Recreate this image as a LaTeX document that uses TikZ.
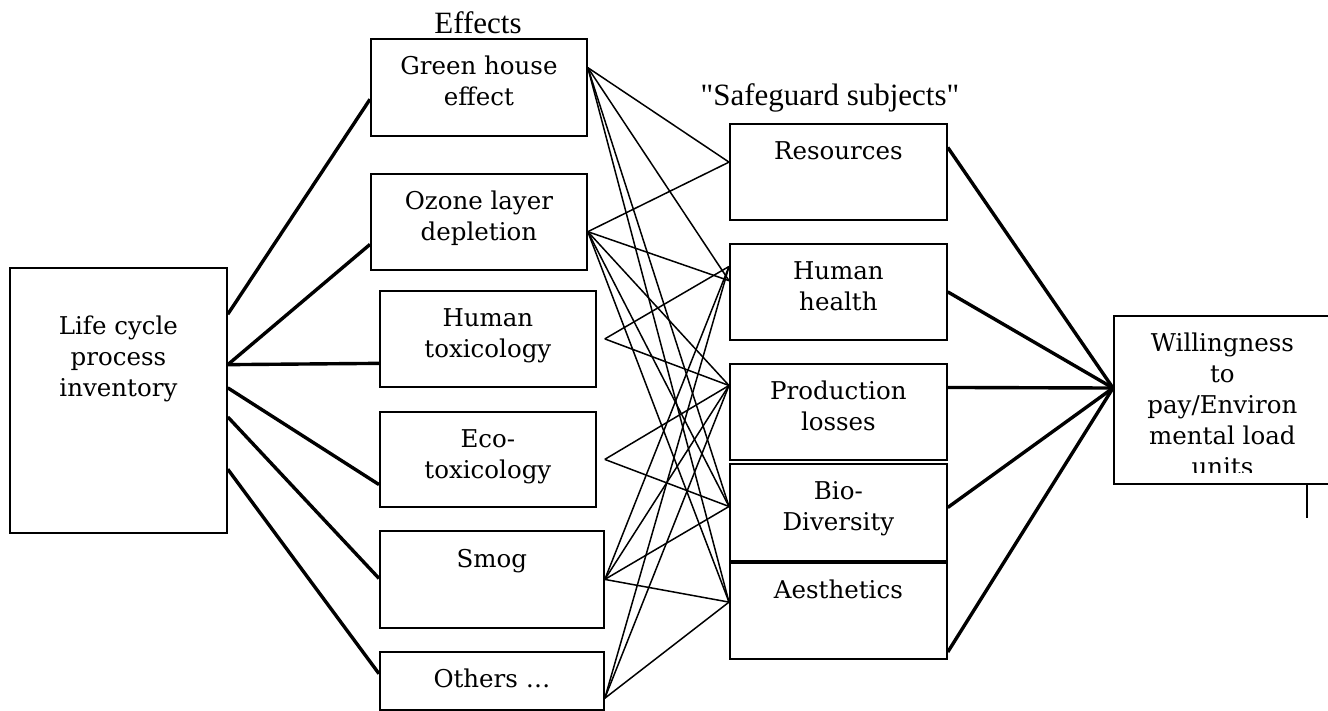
\documentclass[tikz,border=0pt]{standalone}
\usepackage{fontspec}
\setmainfont{DejaVu Serif}
\newfontfamily\headfont{Liberation Serif}
\usetikzlibrary{calc}
\begin{document}
\begin{tikzpicture}[x=1pt,y=-1pt,
  box/.style={draw, line width=1.8pt, inner sep=0pt, anchor=north west},
  lbl/.style={anchor=base, align=center, inner sep=0pt,
              font=\fontsize{24.5}{31}\selectfont},
  head/.style={anchor=base, inner sep=0pt, font=\headfont\fontsize{31}{31}\selectfont},
  heavy/.style={line width=3.4pt},
  light/.style={line width=1.5pt},
]
\useasboundingbox (0,0) rectangle (1328,710);
\clip (0,0) rectangle (1328,710);

% boxes
\node[box, minimum width=217pt, minimum height=265pt] (lci) at (9,267) {};
\node[box, minimum width=216pt, minimum height=97pt] (gh)  at (370,38) {};
\node[box, minimum width=216pt, minimum height=96pt] (oz)  at (370,173) {};
\node[box, minimum width=216pt, minimum height=96pt] (ht)  at (379,290) {};
\node[box, minimum width=216pt, minimum height=95pt] (eco) at (379,411) {};
\node[box, minimum width=224pt, minimum height=97pt] (smog) at (379,530) {};
\node[box, minimum width=224pt, minimum height=58pt] (oth) at (379,651) {};
\node[box, minimum width=217pt, minimum height=96pt] (res) at (729,123) {};
\node[box, minimum width=217pt, minimum height=96pt] (hh)  at (729,243) {};
\node[box, minimum width=217pt, minimum height=96pt] (prod) at (729,363) {};
\node[box, minimum width=217pt, minimum height=97pt] (bio) at (729,463) {};
\node[box, minimum width=217pt, minimum height=96pt] (aes) at (729,562) {};
\node[box, minimum width=217pt, minimum height=168pt] (wtp) at (1113,315) {};

% headings
\node[head] (effh) at (478,33) {Effects};
\node[head] (sgh) at (830,105) {"Safeguard subjects"};

% box texts (the base anchor sits on the last line)
\node[lbl] (lcit) at ([yshift=-129pt]lci.north) {Life cycle\\process\\inventory};
\node[lbl] (ght) at ([yshift=-67pt]gh.north) {Green house\\effect};
\node[lbl] (ozt) at ([yshift=-67pt]oz.north) {Ozone layer\\depletion};
\node[lbl] (htt) at ([yshift=-67pt]ht.north) {Human\\toxicology};
\node[lbl] (ecot) at ([yshift=-67pt]eco.north) {Eco-\\toxicology};
\node[lbl] (smogt) at ([yshift=-37pt]smog.north) {Smog};
\node[lbl] (otht) at ([yshift=-36pt]oth.north) {Others \dots};
\node[lbl] (rest) at ([yshift=-36pt]res.north) {Resources};
\node[lbl] (hht) at ([yshift=-67pt]hh.north) {Human\\health};
\node[lbl] (prodt) at ([yshift=-67pt]prod.north) {Production\\losses};
\node[lbl] (biot) at ([yshift=-67pt]bio.north) {Bio-\\Diversity};
\node[lbl] (aest) at ([yshift=-36pt]aes.north) {Aesthetics};
\begin{scope}
  % the last line is cut off by the box's inner margin
  \clip (wtp.north west) rectangle ([yshift=12pt]wtp.south east);
  \node[lbl] (wtpt) at ([yshift=-160pt]wtp.north) {Willingness\\to\\pay/Environ\\mental load\\units};
\end{scope}

% short stub below the right box
\coordinate (stubend) at (1307,518);
\draw[line width=1.5pt] (wtp.south -| stubend) -- (stubend);

% inventory to effects
\draw[heavy] ($(lci.north east)!0.177!(lci.south east)$) -- ($(gh.north west)!0.62!(gh.south west)$);
\draw[heavy] ($(lci.north east)!0.366!(lci.south east)$) -- ($(oz.north west)!0.73!(oz.south west)$);
\draw[heavy] ($(lci.north east)!0.366!(lci.south east)$) -- ($(ht.north west)!0.75!(ht.south west)$);
\draw[heavy] ($(lci.north east)!0.453!(lci.south east)$) -- ($(eco.north west)!0.76!(eco.south west)$);
\draw[heavy] ($(lci.north east)!0.562!(lci.south east)$) -- ($(smog.north west)!0.49!(smog.south west)$);
\draw[heavy] ($(lci.north east)!0.758!(lci.south east)$) -- ($(oth.north west)!0.38!(oth.south west)$);

% effect ports
\coordinate (gho) at ($(gh.north east)!0.30!(gh.south east)$);
\coordinate (ozo) at ($(oz.north east)!0.60!(oz.south east)$);
\coordinate (hto) at ([xshift=8pt]ht.east);
\coordinate (ecoo) at ([xshift=8pt]eco.east);
\coordinate (smogo) at (smog.east);
\coordinate (otho) at ($(oth.north east)!0.79!(oth.south east)$);
% safeguard ports
\coordinate (resi) at ($(res.north west)!0.40!(res.south west)$);
\coordinate (hhi) at ($(hh.north west)!0.24!(hh.south west)$);
\coordinate (hhj) at ($(hh.north west)!0.385!(hh.south west)$);
\coordinate (prodi) at ($(prod.north west)!0.23!(prod.south west)$);
\coordinate (bioi) at ($(bio.north west)!0.44!(bio.south west)$);
\coordinate (aesi) at ($(aes.north west)!0.41!(aes.south west)$);

% effects to safeguard subjects
\draw[light] (gho) -- (resi);
\draw[light] (gho) -- (hhj);
\draw[light] (gho) -- (bioi);
\draw[light] (gho) -- (aesi);
\draw[light] (ozo) -- (resi);
\draw[light] (ozo) -- (hhj);
\draw[light] (ozo) -- (prodi);
\draw[light] (ozo) -- (bioi);
\draw[light] (ozo) -- (aesi);
\draw[light] (hto) -- (hhi);
\draw[light] (hto) -- (prodi);
\draw[light] (ecoo) -- (prodi);
\draw[light] (ecoo) -- (bioi);
\draw[light] (smogo) -- (hhi);
\draw[light] (smogo) -- (prodi);
\draw[light] (smogo) -- (bioi);
\draw[light] (smogo) -- (aesi);
\draw[light] (otho) -- (hhi);
\draw[light] (otho) -- (prodi);
\draw[light] (otho) -- (aesi);

% safeguard subjects to valuation
\coordinate (wtpi) at ($(wtp.north west)!0.43!(wtp.south west)$);
\draw[heavy] ($(res.north east)!0.25!(res.south east)$) -- (wtpi);
\draw[heavy] ($(hh.north east)!0.50!(hh.south east)$) -- (wtpi);
\draw[heavy] ($(prod.north east)!0.25!(prod.south east)$) -- (wtpi);
\draw[heavy] ($(bio.north east)!0.45!(bio.south east)$) -- (wtpi);
\draw[heavy] ($(aes.north east)!0.92!(aes.south east)$) -- (wtpi);
\end{tikzpicture}
\end{document}
